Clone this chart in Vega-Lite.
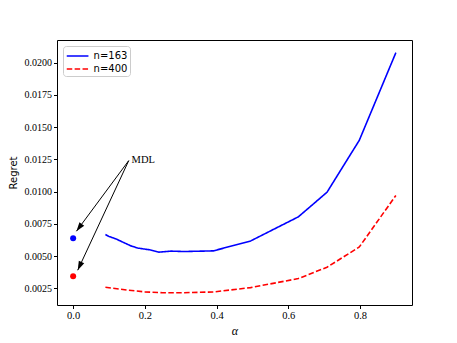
{
  "$schema": "https://vega.github.io/schema/vega-lite/v6.json",
  "width": 355,
  "height": 265,
  "autosize": "none",
  "padding": {"left": 57, "top": 40, "right": 45, "bottom": 38},
  "background": "white",
  "config": {
    "view": {"stroke": "black", "strokeWidth": 1},
    "axis": {
      "grid": false,
      "domain": false,
      "tickColor": "black",
      "tickSize": 3.5,
      "labelFont": "Liberation Serif",
      "labelFontSize": 10.5,
      "labelColor": "black",
      "labelFlush": false,
      "labelOverlap": false,
      "titleColor": "black",
      "titleFontWeight": "normal"
    },
    "axisY": {"labelOverlap": false, "labelFontSize": 10}
  },
  "datasets": {
    "curves": [
      {"alpha": 0.09, "regret": 0.00667, "series": "n=163"},
      {"alpha": 0.10, "regret": 0.00652, "series": "n=163"},
      {"alpha": 0.12, "regret": 0.00632, "series": "n=163"},
      {"alpha": 0.14, "regret": 0.00606, "series": "n=163"},
      {"alpha": 0.16, "regret": 0.00580, "series": "n=163"},
      {"alpha": 0.18, "regret": 0.00562, "series": "n=163"},
      {"alpha": 0.216, "regret": 0.00547, "series": "n=163"},
      {"alpha": 0.239, "regret": 0.00530, "series": "n=163"},
      {"alpha": 0.272, "regret": 0.00538, "series": "n=163"},
      {"alpha": 0.309, "regret": 0.00535, "series": "n=163"},
      {"alpha": 0.391, "regret": 0.00540, "series": "n=163"},
      {"alpha": 0.495, "regret": 0.00617, "series": "n=163"},
      {"alpha": 0.628, "regret": 0.00804, "series": "n=163"},
      {"alpha": 0.708, "regret": 0.00995, "series": "n=163"},
      {"alpha": 0.798, "regret": 0.01398, "series": "n=163"},
      {"alpha": 0.900, "regret": 0.02078, "series": "n=163"},
      {"alpha": 0.09, "regret": 0.00258, "series": "n=400"},
      {"alpha": 0.15, "regret": 0.00236, "series": "n=400"},
      {"alpha": 0.20, "regret": 0.00222, "series": "n=400"},
      {"alpha": 0.25, "regret": 0.00215, "series": "n=400"},
      {"alpha": 0.30, "regret": 0.00215, "series": "n=400"},
      {"alpha": 0.391, "regret": 0.00221, "series": "n=400"},
      {"alpha": 0.495, "regret": 0.00255, "series": "n=400"},
      {"alpha": 0.628, "regret": 0.00325, "series": "n=400"},
      {"alpha": 0.708, "regret": 0.00413, "series": "n=400"},
      {"alpha": 0.798, "regret": 0.00570, "series": "n=400"},
      {"alpha": 0.900, "regret": 0.00970, "series": "n=400"}
    ],
    "mdl": [
      {"alpha": 0.0, "regret": 0.00638, "series": "n=163"},
      {"alpha": 0.0, "regret": 0.00343, "series": "n=400"}
    ],
    "arrows": [
      {"x0": 0.155, "y0": 0.0124, "x1": 0.0092, "y1": 0.006925, "angle": 216.8},
      {"x0": 0.155, "y0": 0.0124, "x1": 0.0128, "y1": 0.0039, "angle": 205}
    ],
    "label": [
      {"alpha": 0.163, "regret": 0.01245, "text": "MDL"}
    ]
  },
  "layer": [
    {
      "data": {"name": "curves"},
      "mark": {"type": "line", "strokeWidth": 1.6},
      "encoding": {
        "x": {
          "field": "alpha", "type": "quantitative",
          "scale": {"domain": [-0.045, 0.945], "nice": false, "zero": false},
          "axis": {"values": [0, 0.2, 0.4, 0.6, 0.8], "format": ".1f", "title": "α",
                   "titleFont": "Liberation Serif", "titleFontStyle": "italic", "titleFontSize": 12, "titlePadding": 4}
        },
        "y": {
          "field": "regret", "type": "quantitative",
          "scale": {"domain": [0.0012, 0.021763], "nice": false, "zero": false},
          "axis": {"values": [0.0025, 0.0050, 0.0075, 0.0100, 0.0125, 0.0150, 0.0175, 0.0200], "format": ".4f", "title": "Regret",
                   "tickCount": 8, "labelOverlap": false,
                   "titleFont": "DejaVu Sans", "titleFontSize": 10, "titlePadding": 6}
        },
        "color": {
          "field": "series", "type": "nominal",
          "scale": {"domain": ["n=163", "n=400"], "range": ["#0000ff", "#ff0000"]},
          "legend": {
            "title": null, "orient": "top-left", "offset": 6,
            "symbolType": "M-1.55,0L1.55,0", "symbolSize": 196, "symbolStrokeWidth": 1.6,
            "symbolOffset": 4.6, "labelOffset": 8,
            "labelFont": "DejaVu Sans", "labelFontSize": 10, "labelColor": "black",
            "fillColor": "white", "strokeColor": "#cccccc", "cornerRadius": 3,
            "padding": 2, "rowPadding": 0
          }
        },
        "strokeDash": {
          "field": "series", "type": "nominal",
          "scale": {"domain": ["n=163", "n=400"], "range": [[1, 0], [5.5, 2.4]]},
          "legend": null
        }
      }
    },
    {
      "data": {"name": "mdl"},
      "mark": {"type": "point", "filled": true, "size": 36, "opacity": 1, "shape": "circle"},
      "encoding": {
        "x": {"field": "alpha", "type": "quantitative"},
        "y": {"field": "regret", "type": "quantitative"},
        "fill": {
          "field": "series", "type": "nominal",
          "scale": {"domain": ["n=163", "n=400"], "range": ["#0000ff", "#ff0000"]},
          "legend": null
        }
      }
    },
    {
      "data": {"name": "arrows"},
      "mark": {"type": "rule", "color": "black", "strokeWidth": 1},
      "encoding": {
        "x": {"field": "x0", "type": "quantitative"},
        "y": {"field": "y0", "type": "quantitative"},
        "x2": {"field": "x1"},
        "y2": {"field": "y1"}
      }
    },
    {
      "data": {"name": "arrows"},
      "mark": {"type": "point", "filled": true, "color": "black", "opacity": 1, "size": 324,
               "shape": "M0,0L-0.33,1L0.33,1Z"},
      "encoding": {
        "x": {"field": "x1", "type": "quantitative"},
        "y": {"field": "y1", "type": "quantitative"},
        "angle": {"field": "angle", "type": "quantitative", "scale": {"domain": [0, 360], "range": [0, 360]}}
      }
    },
    {
      "data": {"name": "label"},
      "mark": {"type": "text", "align": "left", "baseline": "middle", "font": "Liberation Serif", "fontSize": 10.5, "color": "black"},
      "encoding": {
        "x": {"field": "alpha", "type": "quantitative"},
        "y": {"field": "regret", "type": "quantitative"},
        "text": {"field": "text"}
      }
    }
  ]
}
